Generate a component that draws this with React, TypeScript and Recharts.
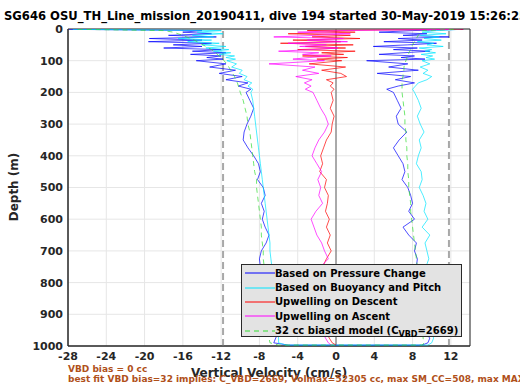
import React from 'react';
import {
  ComposedChart, Scatter, XAxis, YAxis, CartesianGrid, ReferenceLine, ReferenceArea, Legend,
} from 'recharts';

// depth levels (m) shared by every profile
const depths = [
  1, 5, 10, 15, 20, 25, 30, 35, 40, 45, 50, 55, 60, 65, 70, 75, 80, 85, 90, 95, 100,
  110, 120, 130, 140, 150, 160, 170, 180, 190, 200,
  225, 250, 275, 300, 325, 350, 375, 400, 425, 450, 475, 500, 525, 550, 575, 600,
  625, 650, 675, 700, 725, 750, 775, 800, 825, 850, 875, 900, 925, 950, 975, 990, 997,
];

// descent (cm/s)
const blueDescent = [
  -27.9, -14, -16, -13, -17.5, -12.5, -19.5, -14, -19.6, -13, -17, -14, -18, -12, -15, -11.5, -15.2, -12, -13.5, -11.8, -14.6,
  -11.5, -13.2, -10.5, -12.2, -9.8, -11.5, -9.2, -10.2, -8.9, -9.4,
  -9.0, -8.6, -8.9, -9.3, -9.6, -9.7, -9.2, -8.6, -8.1, -7.9, -8.2, -7.6, -7.4, -7.8, -7.5, -7.7,
  -7.4, -7.0, -7.3, -7.8, -8.0, -7.9, -7.3, -6.8, -6.9, -7.4, -7.2, -7.0, -6.6, -5.9, -6.3, -6.5, -5.0,
];
const cyanDescent = [
  -27.5, -12, -14.5, -11.8, -15, -12.8, -16.5, -13, -15.5, -12.2, -14, -11.5, -13.6, -11.2, -12.8, -11, -12.2, -10.6, -11.5, -10.5, -11.4,
  -10.4, -10.9, -9.8, -10.1, -9.3, -9.6, -8.8, -9.2, -8.7, -8.9,
  -8.7, -8.6, -8.5, -8.4, -8.3, -8.2, -8.1, -8.0, -7.9, -7.8, -7.7, -7.6, -7.5, -7.4, -7.3, -7.2,
  -7.1, -7.0, -6.9, -6.9, -6.8, -6.7, -6.6, -6.6, -6.5, -6.4, -6.3, -6.3, -6.2, -6.1, -6.0, -6.0, -5.2,
];
const greenDescent = [
  -27, -18, -17, -16.5, -16, -15.6, -15.2, -14.8, -14.5, -14.2, -13.9, -13.6, -13.3, -13, -12.8, -12.6, -12.4, -12.2, -12, -11.8, -11.7,
  -11.4, -11.2, -11, -10.8, -10.6, -10.5, -10.3, -10.2, -10.1, -10.0,
  -9.7, -9.5, -9.3, -9.2, -9.0, -8.9, -8.8, -8.7, -8.6, -8.5, -8.3, -8.3, -8.2, -8.1, -8.0, -7.9,
  -7.8, -7.8, -7.7, -7.6, -7.6, -7.5, -7.4, -7.4, -7.3, -7.3, -7.2, -7.1, -7.1, -7.0, -7.0, -6.9, -6.0,
];
const redDescent = [
  13.3, -3, 2, -5, 1.5, -2.5, 2.5, -4.5, 0.5, -5.8, 1.8, -3.2, 1, -4, 2, -1.5, 0.8, -3.5, 1.2, -2, 0.6,
  -2.8, 1, -1.5, 0.5, 1.1, -1, -0.3, -0.6, -0.2, -0.5,
  -0.3, -0.6, -0.2, -0.4, -0.5, -1.0, -1.3, -1.6, -1.4, -1.7, -1.0, -1.2, -0.8, -0.9, -1.1, -0.7,
  -1.0, -0.6, -0.9, -0.5, -1.0, -1.4, -1.2, -0.8, -1.3, -0.9, -1.1, -0.6, -0.9, -1.2, -0.7, -0.4, 0,
];

// ascent (cm/s), listed by increasing depth
const blueAscent = [
  13.3, 8, 4.5, 9.5, 7, 11.8, 6.5, 9, 5, 10.5, 7.5, 3.9, 8.5, 6, 9.8, 7, 4.5, 8.2, 6.8, 9.3, 3.2,
  7.5, 5.5, 8.6, 4.3, 7.8, 6.2, 8.2, 6.5, 5.3, 6.0,
  6.4, 6.8, 6.3, 6.5, 7.4, 6.6, 6.0, 6.5, 7.0, 7.2, 6.9, 7.5, 7.8, 8.0, 7.6, 8.2,
  7.0, 7.6, 8.4, 8.2, 8.5, 8.4, 8.8, 8.6, 9.0, 8.9, 9.2, 8.8, 9.1, 9.0, 9.8, 9.6, 9.0,
];
const cyanAscent = [
  13, 10.5, 9, 11.5, 8.8, 10.8, 9.2, 11, 8.5, 10.2, 9.5, 11.2, 8.7, 10, 9.3, 10.4, 8.9, 10.1, 9.4, 10.3, 9.0,
  9.8, 8.8, 9.6, 9.1, 10.0, 9.5, 8.6, 8.3, 8.0, 8.2,
  8.6, 8.9, 8.5, 8.8, 9.2, 8.7, 8.9, 8.6, 8.4, 8.9, 9.0, 8.7, 9.1, 9.4, 9.2, 9.6,
  9.0, 9.8, 9.3, 9.5, 9.7, 9.4, 9.8, 9.6, 9.9, 9.5, 10.0, 9.7, 10.1, 9.9, 10.2, 10.0, 9.6,
];
const greenAscent = [
  12.5, 9, 8.8, 8.7, 8.6, 8.5, 8.4, 8.3, 8.2, 8.1, 8.0, 7.9, 7.9, 7.8, 7.7, 7.6, 7.6, 7.5, 7.4, 7.4, 7.3,
  7.2, 7.1, 7.1, 7.0, 7.0, 6.9, 6.9, 6.9, 6.9, 6.9,
  7.0, 7.1, 7.2, 7.2, 7.3, 7.3, 7.4, 7.4, 7.5, 7.5, 7.6, 7.6, 7.7, 7.8, 7.8, 7.9,
  8.0, 8.1, 8.2, 8.3, 8.4, 8.5, 8.6, 8.7, 8.8, 8.9, 8.9, 9.0, 9.0, 9.1, 9.1, 9.2, 9.0,
];
const magentaAscent = [
  12, 0.5, -4, 1.5, -2, -6.5, 0.8, -3, 1.2, -5, -1, -3.8, 0.2, -2.5, -6, -1.8, -3.5, -0.5, -2.8, -4.5, -1.2,
  -7, -2.2, -3.5, -1.8, -4.2, -2.5, -3.3, -2.6, -3.2, -2.4,
  -2.0, -1.6, -1.1, -0.8, -1.2, -1.8, -2.2, -2.5, -2.0, -1.5, -1.9, -1.6, -1.8, -1.4, -2.1, -2.6,
  -2.3, -2.0, -1.5, -1.2, -0.8, -1.6, -1.4, -1.9, -1.5, -1.2, -1.7, -1.3, -1.0, -1.5, -1.1, -0.8, -0.5,
];

const xTicks = [-28, -24, -20, -16, -12, -8, -4, 0, 4, 8, 12];
const yTicks = [0, 100, 200, 300, 400, 500, 600, 700, 800, 900, 1000];
const apogeeLimits = [-11.8, 11.8];

const legendItems = [
  { name: 'Based on Pressure Change', color: '#0000ff', dash: undefined },
  { name: 'Based on Buoyancy and Pitch', color: '#00e5ff', dash: undefined },
  { name: 'Upwelling on Descent', color: '#ff0000', dash: undefined },
  { name: 'Upwelling on Ascent', color: '#ff00ff', dash: undefined },
  { name: 'model', color: '#33dd33', dash: '5 4' },
];

const toPts = (vals: number[]) => depths.map((d, i) => ({ v: vals[i], d }));

const bluePts = [...toPts(blueDescent), ...toPts(blueAscent).reverse()];
const cyanPts = [...toPts(cyanDescent), ...toPts(cyanAscent).reverse()];
const greenPts = [...toPts(greenDescent), ...toPts(greenAscent).reverse()];
const redPts = toPts(redDescent);
const magentaPts = toPts(magentaAscent).reverse();

const FONT = '"DejaVu Sans", sans-serif';
const noDot = () => <g />;

const renderLegend = () => (
  <div
    style={{
      width: 221, height: 73, boxSizing: 'border-box', background: '#e3e3e3',
      border: '1px solid #2a2a2a', paddingTop: 1, fontFamily: FONT, fontWeight: 'bold',
      fontSize: 10, color: '#000',
    }}
  >
    {legendItems.map((it, i) => (
      <div key={i} style={{ height: 14.4, display: 'flex', alignItems: 'center', whiteSpace: 'nowrap' }}>
        <svg width={33} height={6} style={{ flex: 'none' }}>
          <line x1={3} y1={3} x2={33} y2={3} stroke={it.color} strokeWidth={1} strokeDasharray={it.dash} />
        </svg>
        {i === 4 ? (
          <span>
            32 cc biased model (C<span style={{ fontSize: 8, position: 'relative', top: 3 }}>VBD</span>=2669)
          </span>
        ) : (
          <span>{it.name}</span>
        )}
      </div>
    ))}
  </div>
);

const tickStyle = { fontSize: 11, fontWeight: 'bold', fill: '#262626', fontFamily: FONT };

export default function App() {
  return (
    <div style={{ position: 'absolute', left: 0, top: 0, width: 520, height: 390, overflow: 'hidden', background: '#fff', fontFamily: FONT }}>
      <ComposedChart width={520} height={390} margin={{ top: 29, right: 50, bottom: 24, left: 0 }}>
        <CartesianGrid stroke="#e6e6e6" strokeWidth={1} />
        <XAxis
          type="number" dataKey="v" domain={[-28, 14]} ticks={xTicks} allowDataOverflow
          height={20} tickSize={0} tickMargin={6} stroke="#262626" tick={tickStyle} interval={0}
        />
        <YAxis
          type="number" dataKey="d" domain={[0, 1000]} ticks={yTicks} reversed allowDataOverflow
          width={68} tickSize={0} tickMargin={5} stroke="#262626" tick={tickStyle} interval={0}
        />
        <ReferenceArea x1={-28} x2={14} y1={0} y2={1000} fill="none" stroke="#262626" strokeWidth={1} />
        <Scatter data={bluePts} fill="#0000ff" line={{ stroke: '#0000ff', strokeWidth: 0.7 }} shape={noDot} isAnimationActive={false} legendType="none" />
        <Scatter data={cyanPts} fill="#00e5ff" line={{ stroke: '#00e5ff', strokeWidth: 0.7 }} shape={noDot} isAnimationActive={false} legendType="none" />
        <Scatter data={redPts} fill="#ff0000" line={{ stroke: '#ff0000', strokeWidth: 0.7 }} shape={noDot} isAnimationActive={false} legendType="none" />
        <Scatter data={magentaPts} fill="#ff00ff" line={{ stroke: '#ff00ff', strokeWidth: 0.7 }} shape={noDot} isAnimationActive={false} legendType="none" />
        <Scatter data={greenPts} fill="#33dd33" line={{ stroke: '#33dd33', strokeWidth: 0.7, strokeDasharray: '5 4' }} shape={noDot} isAnimationActive={false} legendType="none" />
        <ReferenceLine x={0} stroke="#606060" strokeWidth={1} />
        {apogeeLimits.map((x) => (
          <ReferenceLine key={x} x={x} stroke="#a8a8a8" strokeWidth={2} strokeDasharray="7 4" />
        ))}
        <Legend
          layout="vertical" align="center" verticalAlign="middle" content={renderLegend}
          wrapperStyle={{ position: 'absolute', left: 241, top: 264, width: 221, height: 73 }}
        />
      </ComposedChart>
      <div style={{ position: 'absolute', left: 4, top: 11, fontSize: 11.6, lineHeight: 1, fontWeight: 'bold', color: '#000', whiteSpace: 'nowrap' }}>
        SG646 OSU_TH_Line_mission_20190411, dive 194 started 30-May-2019 15:26:25
      </div>
      <div style={{ position: 'absolute', left: 14, top: 187, transform: 'translate(-50%, -50%) rotate(-90deg)', fontSize: 12, lineHeight: 1, fontWeight: 'bold', color: '#262626', whiteSpace: 'nowrap' }}>
        Depth (m)
      </div>
      <div style={{ position: 'absolute', left: 269, top: 367, transform: 'translateX(-50%)', fontSize: 12, lineHeight: 1, fontWeight: 'bold', color: '#262626', whiteSpace: 'nowrap' }}>
        Vertical Velocity (cm/s)
      </div>
      <div style={{ position: 'absolute', left: 68, top: 364, fontSize: 9, lineHeight: '10px', fontWeight: 'bold', color: '#b0501a', whiteSpace: 'nowrap' }}>
        <div>VBD bias = 0 cc</div>
        <div>best fit VBD bias=32 implies: C_VBD=2669, Volmax=52305 cc, max SM_CC=508, max MAX_BUOY=150</div>
      </div>
    </div>
  );
}
